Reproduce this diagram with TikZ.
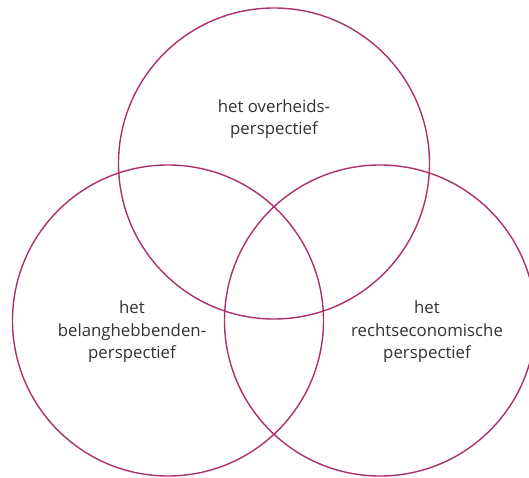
\documentclass[tikz,border=0pt]{standalone}
\usepackage{fontspec}
\setmainfont{Open Sans}
\usetikzlibrary{positioning}
\definecolor{ring}{RGB}{172,48,110}
\definecolor{tekst}{RGB}{50,50,50}
\tikzstyle{ring}  = [circle, draw=ring, line width=1.4pt, minimum size=311pt, inner sep=0pt, outer sep=0pt]
\tikzstyle{label} = [align=center, text=tekst, font=\fontsize{16.8}{22.5}\selectfont, inner sep=0pt]

\begin{document}
\begin{tikzpicture}[x=1pt,y=-1pt]

\useasboundingbox (0,0) rectangle (529,478);
\clip (0,0) rectangle (529,478);

% cirkels
\node[ring] (boven) at (274,163.5) {};
\node[ring] (links) at (168,320.5) {};
\node[ring] (rechts) at (380,320.5) {};

% teksten
\node[label] (overheid) at (274,119) {het overheids-\\perspectief};
\node[label] (belang) at (132,332) {het\\belanghebbenden-\\perspectief};
\node[label] (recht) at (427,332) {het\\rechtseconomische\\perspectief};

\end{tikzpicture}
\end{document}
